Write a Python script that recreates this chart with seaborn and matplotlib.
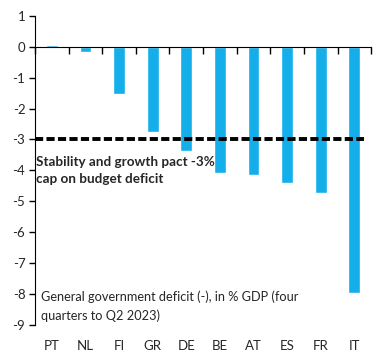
import numpy as np
import pandas as pd
import seaborn as sns
import matplotlib.pyplot as plt

countries = ["PT", "NL", "FI", "GR", "DE", "BE", "AT", "ES", "FR", "IT"]
deficit = [0.07, -0.17, -1.52, -2.75, -3.37, -4.08, -4.14, -4.4, -4.73, -7.96]
sgp_cap = -3
yticks = list(range(-9, 2))

df = pd.DataFrame({"country": countries, "deficit": deficit})

sns.set_style("white")
plt.rcParams["font.family"] = ["Lato", "DejaVu Sans"]

fig = plt.figure(figsize=(3.85, 3.61), dpi=100)
ax = fig.add_axes([0.091, 0.1, 0.873, 0.856])

sns.barplot(data=df, x="country", y="deficit", color="#14AFEA", saturation=1,
            width=0.35, ax=ax)

# stability and growth pact cap
ax.axhline(sgp_cap, xmin=0, xmax=0.98, color="black", lw=2.8, ls=(0, (2.1, 0.85)), zorder=3)

ax.set_ylim(-9, 1)
ax.set_xlim(-0.5, len(countries) - 0.5)
ax.set_yticks(yticks)
ax.set_yticklabels([str(t) for t in yticks], fontsize=9.5)
ax.tick_params(axis="y", direction="out", length=4, width=1, left=True, color="black", pad=3)
ax.set_xlabel("")
ax.set_ylabel("")

for s in ["top", "right"]:
    ax.spines[s].set_visible(False)
ax.spines["left"].set_color("black")
ax.spines["bottom"].set_color("black")
ax.spines["bottom"].set_position(("data", 0))

bounds = np.arange(len(countries) + 1) - 0.5
ax.set_xticks(bounds)
ax.set_xticklabels([])
ax.tick_params(axis="x", direction="out", length=5, width=1, bottom=True, color="black")

sec = ax.secondary_xaxis(0.0)
sec.set_xticks(range(len(countries)))
sec.set_xticklabels(countries, fontsize=9.5)
sec.tick_params(length=0, pad=11)
sec.spines["bottom"].set_visible(False)

ax.text(0.003, 0.50, "Stability and growth pact -3%\ncap on budget deficit",
        transform=ax.transAxes, fontsize=9.7, fontweight="bold", va="center",
        ha="left", linespacing=1.45)
ax.text(0.018, 0.06, "General government deficit (-), in % GDP (four\nquarters to Q2 2023)",
        transform=ax.transAxes, fontsize=9.2, va="center", ha="left", linespacing=1.55)

fig.savefig("out.png", dpi=100)
